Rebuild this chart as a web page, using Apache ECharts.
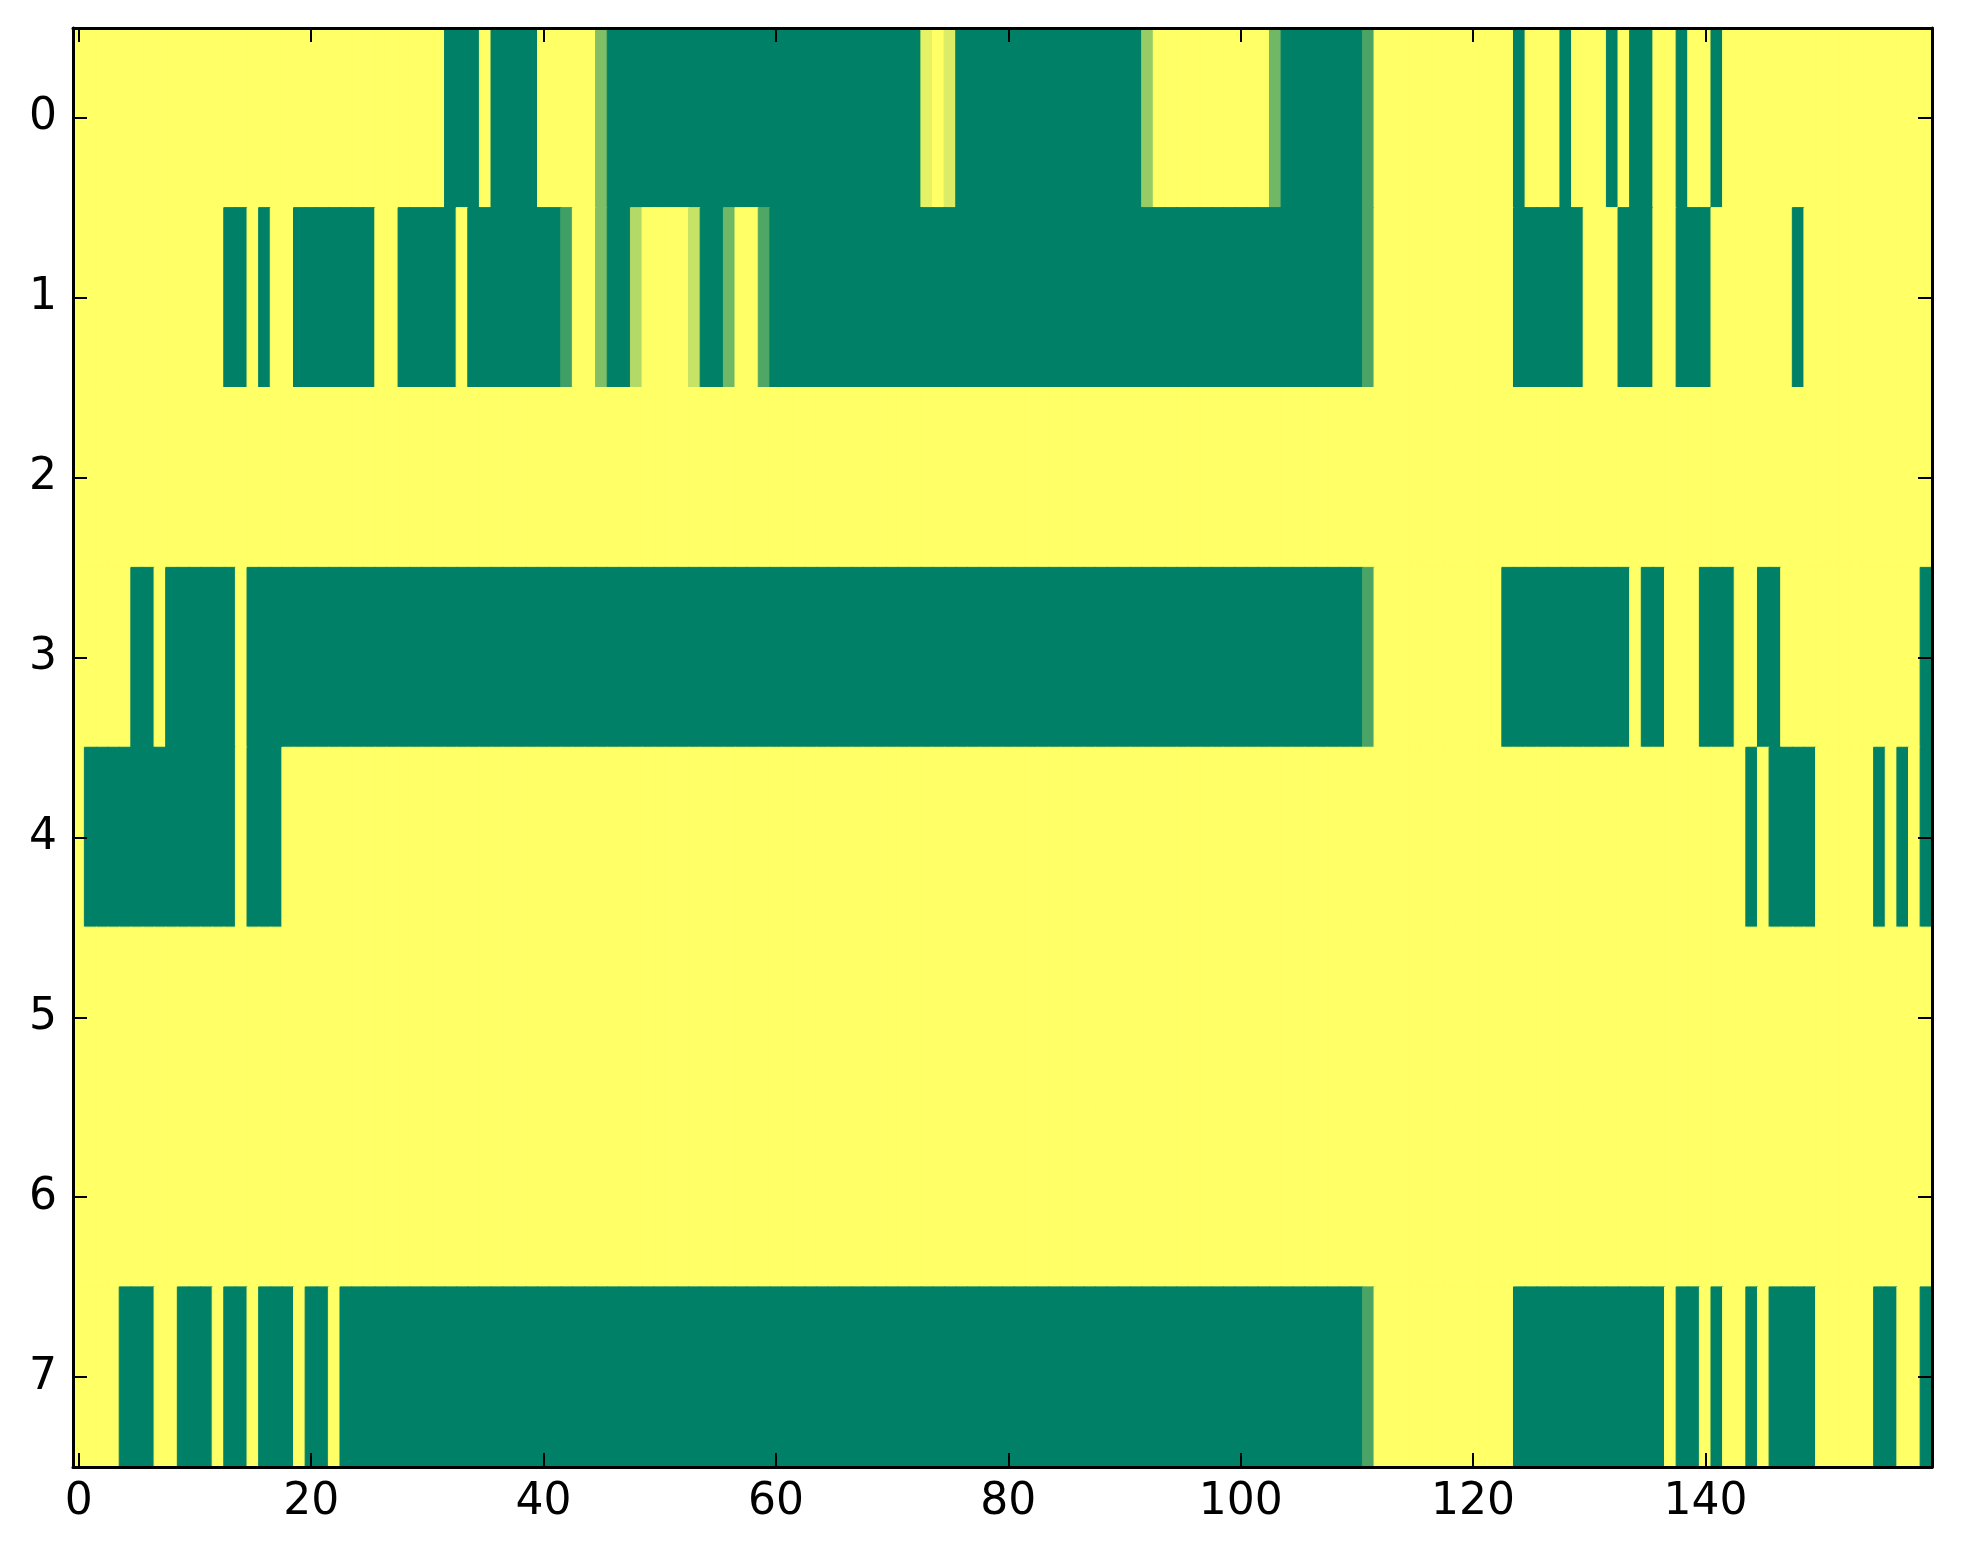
<!DOCTYPE html>
<html>
<head>
<meta charset="utf-8">
<script src="https://cdn.jsdelivr.net/npm/echarts@6/dist/echarts.min.js"></script>
<style>
html,body{margin:0;padding:0;background:#fff;}
#chart{width:1963px;height:1564px;}
</style>
</head>
<body>
<div id="chart"></div>
<script>
// ---- data (rows 0..7, columns 0..159) ----
const yLabels = ['0','1','2','3','4','5','6','7'];
const xTickLabels = ['0','20','40','60','80','100','120','140'];

const row0 = [
 1,1,1,1,1,1,1,1,1,1,1,1,1,1,1,1,1,1,1,1,
 1,1,1,1,1,1,1,1,1,1,1,1,0,0,0,1,0,0,0,0,
 1,1,1,1,1,0.5,0,0,0,0,0,0,0,0,0,0,0,0,0,0,
 0,0,0,0,0,0,0,0,0,0,0,0,0,0.9,1,0.86,0,0,0,0,
 0,0,0,0,0,0,0,0,0,0,0,0,0.59,1,1,1,1,1,1,1,
 1,1,1,0.44,0,0,0,0,0,0,0,0.29,1,1,1,1,1,1,1,1,
 1,1,1,1,0,1,1,1,0,1,1,1,0,1,0,0,1,1,0,1,
 1,0,1,1,1,1,1,1,1,1,1,1,1,1,1,1,1,1,1,1
];
const row1 = [
 1,1,1,1,1,1,1,1,1,1,1,1,1,0,0,1,0,1,1,0,
 0,0,0,0,0,0,1,1,0,0,0,0,0,1,0,0,0,0,0,0,
 0,0,0.25,1,1,0.5,0,0,0.7,1,1,1,1,0.78,0,0,0.44,1,1,0.31,
 0,0,0,0,0,0,0,0,0,0,0,0,0,0,0,0,0,0,0,0,
 0,0,0,0,0,0,0,0,0,0,0,0,0,0,0,0,0,0,0,0,
 0,0,0,0,0,0,0,0,0,0,0,0.29,1,1,1,1,1,1,1,1,
 1,1,1,1,0,0,0,0,0,0,1,1,1,0,0,0,1,1,0,0,
 0,1,1,1,1,1,1,1,0,1,1,1,1,1,1,1,1,1,1,1
];
const row2 = [
 1,1,1,1,1,1,1,1,1,1,1,1,1,1,1,1,1,1,1,1,
 1,1,1,1,1,1,1,1,1,1,1,1,1,1,1,1,1,1,1,1,
 1,1,1,1,1,1,1,1,1,1,1,1,1,1,1,1,1,1,1,1,
 1,1,1,1,1,1,1,1,1,1,1,1,1,1,1,1,1,1,1,1,
 1,1,1,1,1,1,1,1,1,1,1,1,1,1,1,1,1,1,1,1,
 1,1,1,1,1,1,1,1,1,1,1,1,1,1,1,1,1,1,1,1,
 1,1,1,1,1,1,1,1,1,1,1,1,1,1,1,1,1,1,1,1,
 1,1,1,1,1,1,1,1,1,1,1,1,1,1,1,1,1,1,1,1
];
const row3 = [
 1,1,1,1,1,0,0,1,0,0,0,0,0,0,1,0,0,0,0,0,
 0,0,0,0,0,0,0,0,0,0,0,0,0,0,0,0,0,0,0,0,
 0,0,0,0,0,0,0,0,0,0,0,0,0,0,0,0,0,0,0,0,
 0,0,0,0,0,0,0,0,0,0,0,0,0,0,0,0,0,0,0,0,
 0,0,0,0,0,0,0,0,0,0,0,0,0,0,0,0,0,0,0,0,
 0,0,0,0,0,0,0,0,0,0,0,0.29,1,1,1,1,1,1,1,1,
 1,1,1,0,0,0,0,0,0,0,0,0,0,0,1,0,0,1,1,1,
 0,0,0,1,1,0,0,1,1,1,1,1,1,1,1,1,1,1,1,0
];
const row4 = [
 1,0,0,0,0,0,0,0,0,0,0,0,0,0,1,0,0,0,1,1,
 1,1,1,1,1,1,1,1,1,1,1,1,1,1,1,1,1,1,1,1,
 1,1,1,1,1,1,1,1,1,1,1,1,1,1,1,1,1,1,1,1,
 1,1,1,1,1,1,1,1,1,1,1,1,1,1,1,1,1,1,1,1,
 1,1,1,1,1,1,1,1,1,1,1,1,1,1,1,1,1,1,1,1,
 1,1,1,1,1,1,1,1,1,1,1,1,1,1,1,1,1,1,1,1,
 1,1,1,1,1,1,1,1,1,1,1,1,1,1,1,1,1,1,1,1,
 1,1,1,1,0,1,0,0,0,0,1,1,1,1,1,0,1,0,1,0
];
const row5 = [
 1,1,1,1,1,1,1,1,1,1,1,1,1,1,1,1,1,1,1,1,
 1,1,1,1,1,1,1,1,1,1,1,1,1,1,1,1,1,1,1,1,
 1,1,1,1,1,1,1,1,1,1,1,1,1,1,1,1,1,1,1,1,
 1,1,1,1,1,1,1,1,1,1,1,1,1,1,1,1,1,1,1,1,
 1,1,1,1,1,1,1,1,1,1,1,1,1,1,1,1,1,1,1,1,
 1,1,1,1,1,1,1,1,1,1,1,1,1,1,1,1,1,1,1,1,
 1,1,1,1,1,1,1,1,1,1,1,1,1,1,1,1,1,1,1,1,
 1,1,1,1,1,1,1,1,1,1,1,1,1,1,1,1,1,1,1,1
];
const row6 = [
 1,1,1,1,1,1,1,1,1,1,1,1,1,1,1,1,1,1,1,1,
 1,1,1,1,1,1,1,1,1,1,1,1,1,1,1,1,1,1,1,1,
 1,1,1,1,1,1,1,1,1,1,1,1,1,1,1,1,1,1,1,1,
 1,1,1,1,1,1,1,1,1,1,1,1,1,1,1,1,1,1,1,1,
 1,1,1,1,1,1,1,1,1,1,1,1,1,1,1,1,1,1,1,1,
 1,1,1,1,1,1,1,1,1,1,1,1,1,1,1,1,1,1,1,1,
 1,1,1,1,1,1,1,1,1,1,1,1,1,1,1,1,1,1,1,1,
 1,1,1,1,1,1,1,1,1,1,1,1,1,1,1,1,1,1,1,1
];
const row7 = [
 1,1,1,1,0,0,0,1,1,0,0,0,1,0,0,1,0,0,0,1,
 0,0,1,0,0,0,0,0,0,0,0,0,0,0,0,0,0,0,0,0,
 0,0,0,0,0,0,0,0,0,0,0,0,0,0,0,0,0,0,0,0,
 0,0,0,0,0,0,0,0,0,0,0,0,0,0,0,0,0,0,0,0,
 0,0,0,0,0,0,0,0,0,0,0,0,0,0,0,0,0,0,0,0,
 0,0,0,0,0,0,0,0,0,0,0,0.29,1,1,1,1,1,1,1,1,
 1,1,1,1,0,0,0,0,0,0,0,0,0,0,0,0,0,1,0,0,
 1,0,1,1,0,1,0,0,0,0,1,1,1,1,1,0,0,1,1,0
];
const rows = [row0,row1,row2,row3,row4,row5,row6,row7];
const nCols = 160;

// ---- colour map ("summer": green -> yellow) ----
function summer(v) {
  const r = Math.round(255 * v);
  const g = Math.round(255 * (0.5 + v / 2));
  const b = 102;
  return 'rgb(' + r + ',' + g + ',' + b + ')';
}

// ---- build library structures ----
const xCategories = [];
for (let i = 0; i < nCols; i++) xCategories.push(String(i));
const heatData = [];
rows.forEach((r, y) => r.forEach((v, x) => {
  const c = summer(v);
  heatData.push({value:[x, y, v], itemStyle:{color:c, borderColor:c, borderWidth:1}});
}));
const bad = rows.map((r,i)=>r.length!==nCols?('row'+i+':'+r.length):null).filter(Boolean);

const FONT = 'DejaVu Sans';
const isTickIdx = (idx) => xTickLabels.indexOf(String(idx)) >= 0;
const axisLineStyle = {show:true, lineStyle:{color:'#000', width:3}};
const tickStyle = {color:'#000', width:2};

const chart = echarts.init(document.getElementById('chart'), null, {renderer:'canvas'});
chart.setOption({
  backgroundColor:'#ffffff',
  animation:false,
  title: bad.length ? {text:'LEN ERR '+bad.join(' '), left:'center', top:'middle'} : undefined,
  grid:{left:73, right:31, top:28, bottom:97, containLabel:false},
  xAxis:[
    {type:'category', data:xCategories, position:'bottom', z:10,
     axisLine:axisLineStyle,
     axisTick:{show:true, inside:true, length:14, alignWithLabel:true, interval:(i)=>isTickIdx(i), lineStyle:tickStyle},
     axisLabel:{show:true, interval:(i)=>isTickIdx(i), fontFamily:FONT, fontSize:44, color:'#000', margin:14},
     splitLine:{show:false}},
    {type:'category', data:xCategories, position:'top', z:10,
     axisLine:axisLineStyle,
     axisTick:{show:true, inside:true, length:14, alignWithLabel:true, interval:(i)=>isTickIdx(i), lineStyle:tickStyle},
     axisLabel:{show:false}, splitLine:{show:false}}
  ],
  yAxis:[
    {type:'category', data:yLabels, inverse:true, position:'left', z:10,
     axisLine:axisLineStyle,
     axisTick:{show:true, inside:true, length:14, alignWithLabel:true, interval:0, lineStyle:tickStyle},
     axisLabel:{show:true, interval:0, fontFamily:FONT, fontSize:44, color:'#000', margin:16},
     splitLine:{show:false}},
    {type:'category', data:yLabels, inverse:true, position:'right', z:10,
     axisLine:axisLineStyle,
     axisTick:{show:true, inside:true, length:14, alignWithLabel:true, interval:0, lineStyle:tickStyle},
     axisLabel:{show:false}, splitLine:{show:false}}
  ],
  series:[{
    type:'heatmap', xAxisIndex:0, yAxisIndex:0, data:heatData, z:2,
    emphasis:{disabled:true}, progressive:0
  }]
});
</script>
</body>
</html>
